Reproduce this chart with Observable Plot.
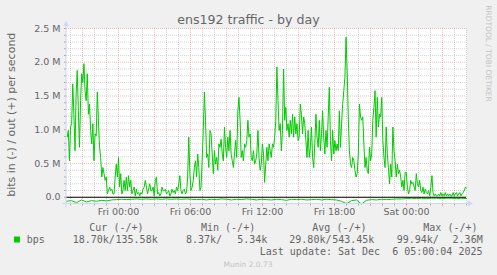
<!DOCTYPE html>
<html>
<head>
<meta charset="utf-8">
<script src="https://cdn.jsdelivr.net/npm/d3@7"></script>
<script src="https://cdn.jsdelivr.net/npm/@observablehq/plot@0.6"></script>
<style>
  html, body { margin: 0; padding: 0; background: #F0F0F0; }
  #chart svg text.pre { white-space: pre; }
</style>
</head>
<body>
<div id="chart"></div>
<script>
// ---- data ----
// outgoing bits/s in Mbit, ~5-minute samples from Thu 19:43 to Sat 05:00
const outMbps = [
  0.89,0.99,0.54,1.04,1.09,1.68,1.23,0.69,1.53,1.88,
  1.28,0.74,1.43,1.83,1.70,1.98,1.58,1.43,1.83,1.23,
  1.38,0.99,0.79,1.09,0.54,0.94,0.91,1.56,1.14,0.74,
  0.59,0.30,0.44,0.35,0.25,0.30,0.05,0.10,0.15,0.10,
  0.12,0.05,0.05,0.30,0.49,0.30,0.59,0.15,0.35,0.05,
  0.10,0.25,0.10,0.30,0.10,0.32,0.15,0.25,0.05,0.10,
  0.15,0.02,0.12,0.05,0.07,0.02,0.07,0.05,0.12,0.15,
  0.25,0.15,0.05,0.12,0.20,0.10,0.10,0.15,0.02,0.25,
  0.30,0.05,0.07,0.02,0.05,0.15,0.10,
  0.10,0.12,0.05,0.07,0.10,0.02,0.05,0.12,0.07,0.10,
  0.05,0.15,0.10,0.20,0.32,0.10,0.05,0.10,0.12,0.05,
  0.07,0.30,0.89,0.35,0.10,0.15,0.25,0.44,0.54,0.30,
  0.64,0.44,0.10,0.15,0.54,0.99,1.56,1.14,0.59,0.64,
  0.44,0.99,0.94,0.64,0.35,0.69,0.49,0.59,0.40,0.79,
  0.74,0.86,0.64,0.54,1.04,0.74,0.59,0.89,0.69,0.99,
  0.64,0.54,0.44,0.64,0.84,0.59,1.28,1.48,1.14,0.59,
  0.69,0.54,0.79,0.74,0.84,1.14,0.89,0.94,0.59,0.54,
  0.69,0.49,0.54,0.64,0.99,0.59,0.40,0.49,0.79,0.64,
  0.22,0.49,0.74,0.54,0.79,0.69,0.59,0.79,0.74,0.89,
  1.14,1.93,1.43,0.99,1.09,0.69,0.99,1.90,1.14,1.33,
  0.99,1.09,0.89,1.14,0.94,1.23,0.89,1.19,0.94,1.09,
  0.84,0.89,1.38,1.23,0.94,1.19,1.09,0.84,0.59,0.99,
  0.59,0.74,1.04,0.59,0.44,0.79,1.23,0.89,0.74,1.14,
  0.69,0.94,1.28,0.89,0.64,0.99,0.74,1.19,1.63,0.84,
  0.54,0.99,0.64,0.84,0.69,0.79,0.69,1.28,0.74,1.09,
  1.38,1.58,1.78,2.37,1.88,1.19,0.69,0.49,0.44,0.59,
  0.54,0.40,0.30,0.35,0.64,1.38,1.19,1.14,1.19,0.79,0.44,
  0.59,0.40,0.35,0.74,0.54,0.64,1.14,1.33,1.58,0.89,
  1.48,1.04,1.23,1.19,1.48,0.84,0.59,0.44,1.04,0.64,
  0.44,0.20,0.49,0.30,1.04,0.69,0.54,0.30,0.49,0.35,
  0.40,0.30,0.15,0.25,0.10,0.37,0.37,0.15,0.05,0.10,
  0.25,0.20,0.22,0.15,0.10,0.35,0.20,0.15,0.25,0.10,
  0.07,0.15,0.05,0.12,0.07,0.05,0.10,0.02,0.15,0.32,
  0.07,0.02,0.05,0.02,0.02,0.05,0.02,0.07,0.02,0.05,
  0.02,0.07,0.02,0.05,0.02,0.05,0.02,0.02,0.07,0.02,
  0.05,0.07,0.02,0.05,0.07,0.02,0.05,0.07,0.10,0.15,0.136
];
// incoming bits/s in kbit (drawn negative), ~25-minute samples
const inKbps = [
  60,50,80,40,70,50,60,45,55,40,35,30,35,30,25,30,25,30,25,30,
  25,30,25,30,25,30,35,30,40,30,35,25,30,40,30,35,25,30,40,30,
  35,40,30,35,45,30,35,30,40,35,30,40,30,35,40,60,95,50,40,100,
  45,35,40,30,35,30,25,25,20,15,20,15,20,15,15,20,15,15,20,15,19
];
const yTickValues = [0, 0.5, 1.0, 1.5, 2.0, 2.5];           // Mbit
const yTickLabels = ["0.0", "0.5 M", "1.0 M", "1.5 M", "2.0 M", "2.5 M"];
const xTickHours = [0, 6, 12, 18, 24];                      // hours from Fri 00:00
const xTickLabels = ["Fri 00:00", "Fri 06:00", "Fri 12:00", "Fri 18:00", "Sat 00:00"];
const legendHeaders = ["Cur (-/+)", "Min (-/+)", "Avg (-/+)", "Max (-/+)"];
const legendIn = ["18.70k/", "8.37k/", "29.80k/", "99.94k/"];
const legendOut = ["135.58k", "5.34k", "543.45k", "2.36M"];
const seriesName = "bps";
const titleText = "ens192 traffic - by day";
const yLabelText = "bits in (-) / out (+) per second";
const lastUpdate = "Last update: Sat Dec  6 05:00:04 2025";

// ---- time base ----
const HOUR = 3600e3;
const fri0 = Date.UTC(2025, 11, 5, 0, 0);
const viewStart = fri0 - (4 + 20 / 60) * HOUR;   // Thu 19:40
const viewEnd = fri0 + 29 * HOUR;                // Sat 05:00
const outStart = fri0 - 4.275 * HOUR;
const inStart = fri0 - (4 + 20 / 60) * HOUR;

const outData = outMbps.map((v, i) => ({
  t: new Date(outStart + i * (viewEnd - outStart) / (outMbps.length - 1)),
  v: v * 1e6
}));
const inData = inKbps.map((v, i) => ({
  t: new Date(inStart + i * (viewEnd - inStart) / (inKbps.length - 1)),
  v: -v * 1e3
}));

const minorY = d3.range(0, 26).filter(i => i % 5 !== 0).map(i => i * 1e5);
const majorY = yTickValues.map(v => v * 1e6);
const hourMarks = d3.range(-4, 30).map(h => new Date(fri0 + h * HOUR));
const minorX = hourMarks.filter(d => ((d - fri0) / HOUR) % 3 !== 0);
const majorX = hourMarks.filter(d => ((d - fri0) / HOUR) % 3 === 0);
const xTicks = xTickHours.map(h => new Date(fri0 + h * HOUR));

const GRID = "rgba(143,143,143,0.75)";
const MGRID = "rgba(222,79,79,0.6)";
const GREEN = "#00CC00";
const FONT = "#666666";

const W = 497, H = 275;
const chart = Plot.plot({
  width: W, height: H,
  marginLeft: 66, marginRight: 31, marginTop: 28, marginBottom: 71.5,
  style: { background: "#F0F0F0", fontFamily: "'DejaVu Sans', sans-serif", fontSize: "9.5px", color: FONT, overflow: "visible" },
  x: { type: "utc", domain: [new Date(viewStart), new Date(viewEnd)] },
  y: { domain: [-1e5, 2.5e6] },
  marks: [
    Plot.frame({ fill: "#FFFFFF", stroke: "none" }),
    Plot.ruleY(minorY, { stroke: GRID, strokeWidth: 0.5, strokeDasharray: "1,1" }),
    Plot.ruleX(minorX, { stroke: GRID, strokeWidth: 0.5, strokeDasharray: "1,1" }),
    Plot.ruleY(majorY, { stroke: MGRID, strokeWidth: 0.6, strokeDasharray: "1,1" }),
    Plot.ruleX(majorX, { stroke: MGRID, strokeWidth: 0.6, strokeDasharray: "1,1" }),
    Plot.axisY(minorY, { tickSize: 2, stroke: GRID, tickFormat: () => "", label: null }),
    Plot.axisY(majorY, { tickSize: 2, stroke: MGRID, tickFormat: () => "", label: null }),
    Plot.axisX(minorX, { tickSize: 2, stroke: GRID, tickFormat: () => "", label: null }),
    Plot.axisX(majorX, { tickSize: 2, stroke: MGRID, tickFormat: () => "", label: null }),
    Plot.axisY(majorY, {
      tickSize: 0, tickPadding: 6, label: null, fill: FONT,
      tickFormat: d => yTickLabels[majorY.indexOf(d)]
    }),
    Plot.axisX(xTicks, {
      tickSize: 0, tickPadding: 4, label: null, fill: FONT,
      tickFormat: d => xTickLabels[xTicks.findIndex(t => +t === +d)]
    }),
    Plot.line(outData, { x: "t", y: "v", stroke: GREEN, strokeWidth: 1 }),
    Plot.line(inData, { x: "t", y: "v", stroke: GREEN, strokeWidth: 1 }),
    Plot.ruleY([0], { stroke: "#000000", strokeWidth: 1 })
  ]
});

document.getElementById("chart").appendChild(chart);

// ---- decorations drawn with the plot's own scales ----
const svg = d3.select(chart);
const sx = chart.scale("x"), sy = chart.scale("y");
const x0 = sx.apply(new Date(viewStart)), x1 = sx.apply(new Date(viewEnd));
const y0 = sy.apply(-1e5), y1 = sy.apply(2.5e6);
const AXIS = "#CFD6F8";

svg.append("line").attr("x1", x0 - 4).attr("x2", x1 + 4).attr("y1", y0).attr("y2", y0)
  .attr("stroke", AXIS).attr("stroke-width", 1);
svg.append("line").attr("x1", x0).attr("x2", x0).attr("y1", y0 + 4).attr("y2", y1 - 4)
  .attr("stroke", AXIS).attr("stroke-width", 1);
svg.append("polygon").attr("fill", AXIS)
  .attr("points", `${x1 + 2},${y0 - 3} ${x1 + 2},${y0 + 3} ${x1 + 7},${y0}`);
svg.append("polygon").attr("fill", AXIS)
  .attr("points", `${x0 - 3},${y1 - 2} ${x0 + 3},${y1 - 2} ${x0},${y1 - 7}`);

// title
svg.append("text").attr("x", W / 2).attr("y", 24).attr("text-anchor", "middle")
  .attr("font-family", "'DejaVu Sans', sans-serif").attr("font-size", 12.6).attr("fill", FONT)
  .text(titleText);

// vertical unit label
svg.append("text").attr("transform", `translate(14.5,${(y0 + y1) / 2 - 1}) rotate(-90)`)
  .attr("text-anchor", "middle").attr("font-family", "'DejaVu Sans', sans-serif")
  .attr("font-size", 11).attr("fill", FONT).text(yLabelText);

// watermark
svg.append("text").attr("transform", `translate(485.5,53.5) rotate(90)`)
  .attr("text-anchor", "middle").attr("font-family", "'DejaVu Sans', sans-serif")
  .attr("font-size", 7.5).attr("fill", "#C4C4C4").text("RRDTOOL / TOBI OETIKER");
svg.append("text").attr("x", 248).attr("y", 266.5).attr("text-anchor", "middle")
  .attr("font-family", "'DejaVu Sans', sans-serif").attr("font-size", 7.5)
  .attr("fill", "#C4C4C4").text("Munin 2.0.73");

// legend
const MONO = "'DejaVu Sans Mono', monospace";
const legend = svg.append("g").attr("font-family", MONO).attr("font-size", 10)
  .attr("fill", FONT).attr("text-anchor", "start");
const headerX = [89.3, 201, 312.3, 423.3];
const inX = [72.7, 186, 289.3, 396.7];
const outX = [157.7, 267.3, 374.3, 482.7];
legendHeaders.forEach((h, i) => {
  legend.append("text").attr("class", "pre").attr("x", headerX[i]).attr("y", 230.5)
    .attr("text-anchor", "start").text(h);
  legend.append("text").attr("x", inX[i]).attr("y", 242.5).attr("text-anchor", "start").text(legendIn[i]);
  legend.append("text").attr("x", outX[i]).attr("y", 242.5).attr("text-anchor", "end").text(legendOut[i]);
});
legend.append("rect").attr("x", 14).attr("y", 236.5).attr("width", 6).attr("height", 6).attr("fill", GREEN);
legend.append("text").attr("x", 26.7).attr("y", 242.5).attr("text-anchor", "start").text(seriesName);
legend.append("text").attr("class", "pre").attr("x", 482.5).attr("y", 254.5)
  .attr("text-anchor", "end").text(lastUpdate);
</script>
</body>
</html>
